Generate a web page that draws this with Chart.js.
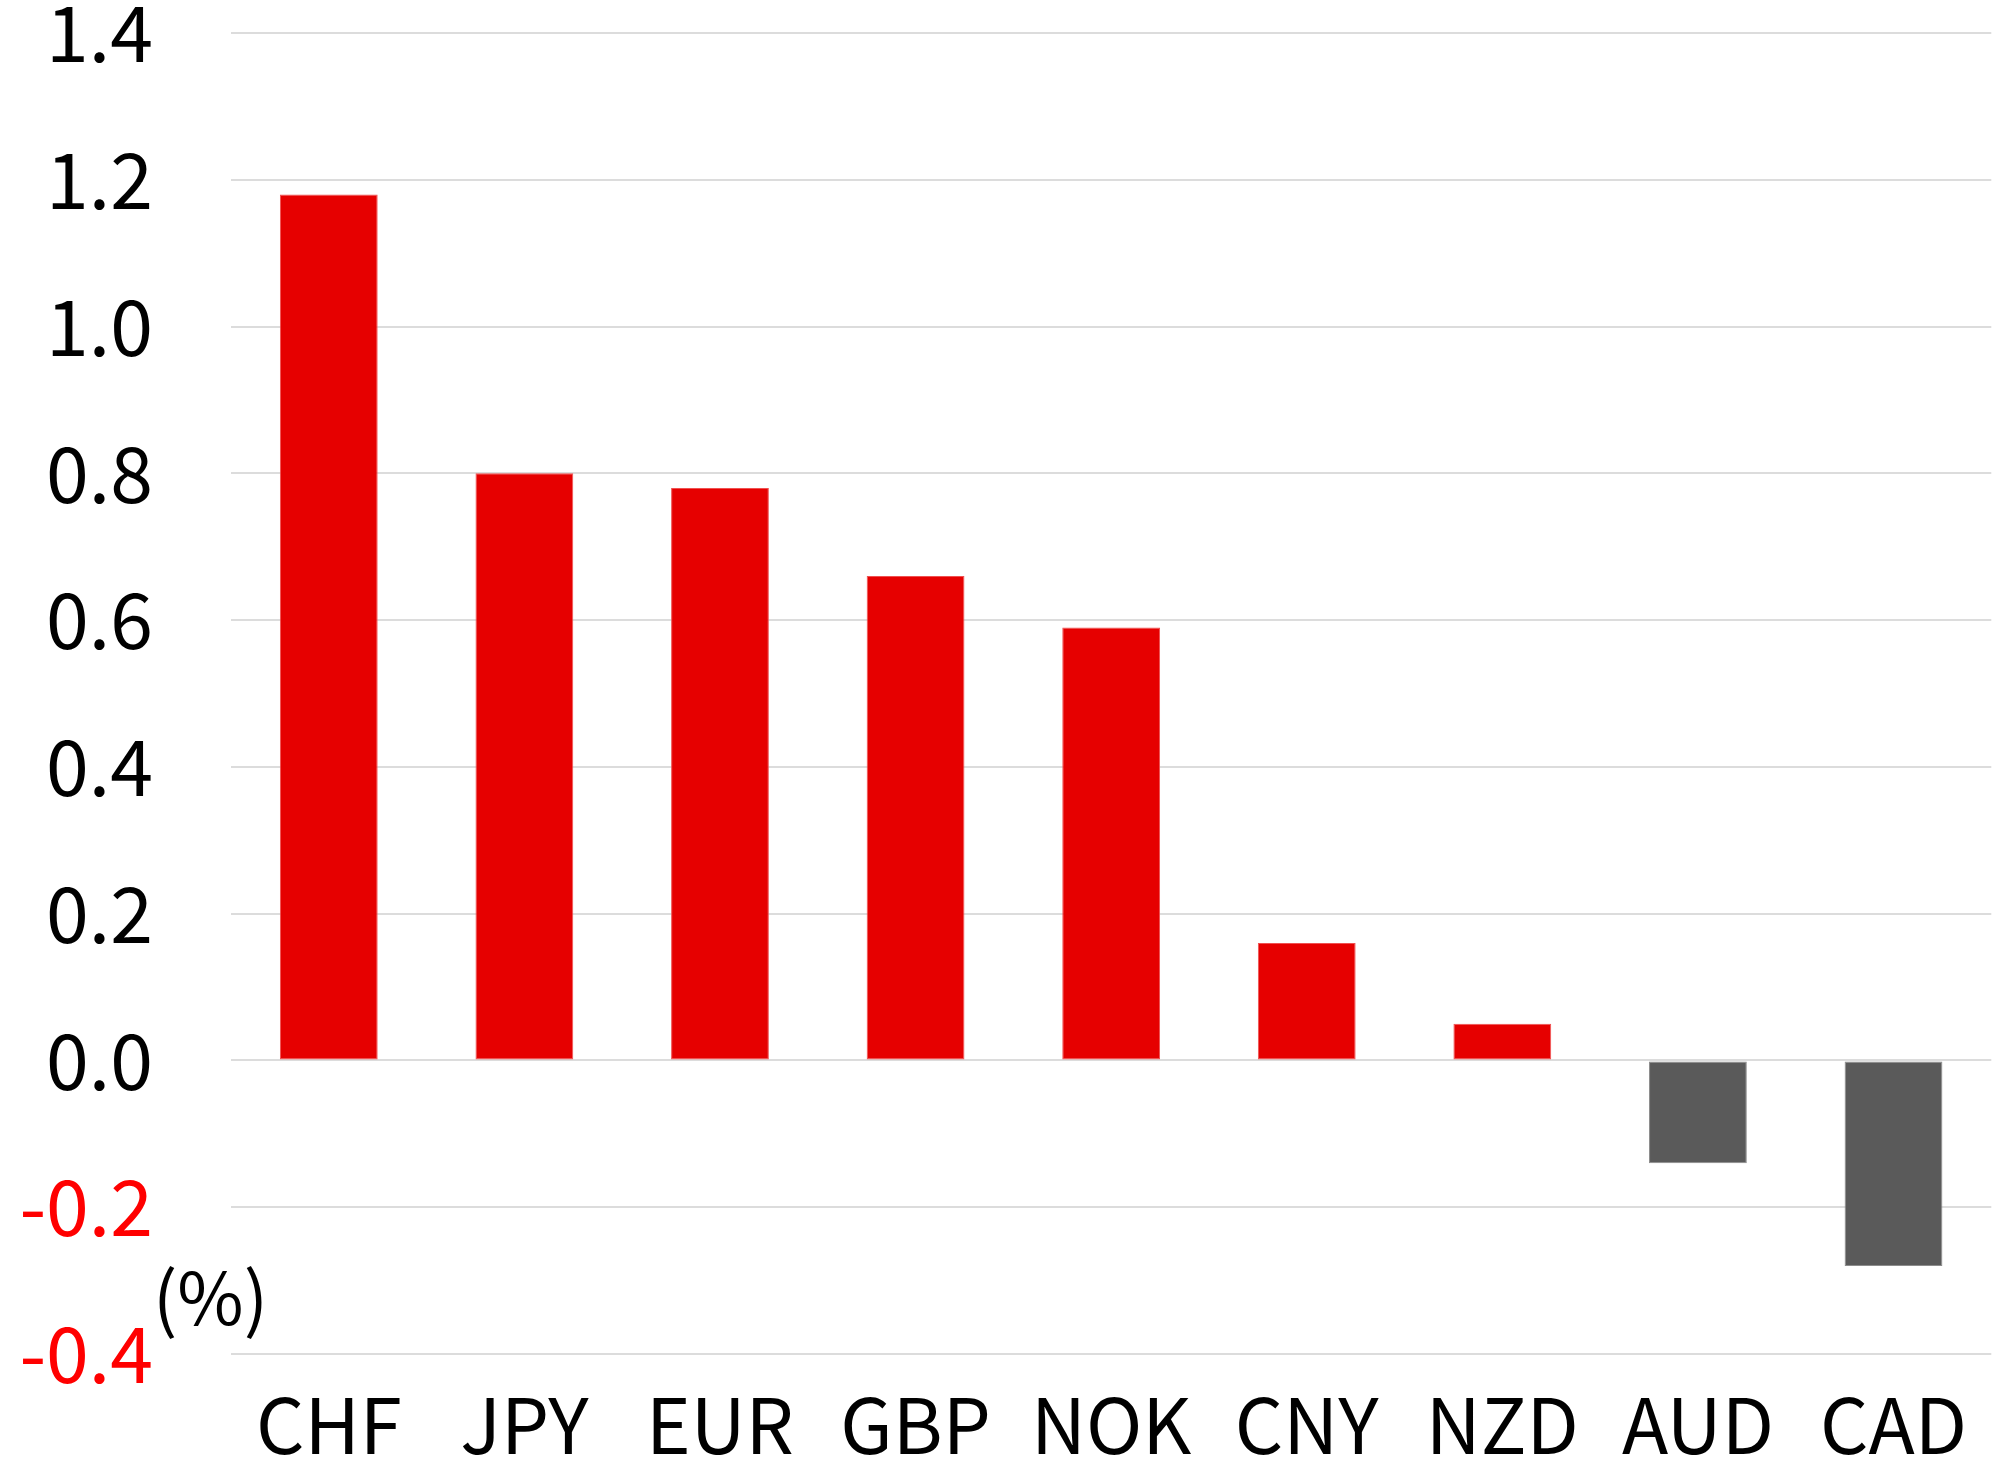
<!DOCTYPE html>
<html>
<head>
<meta charset="utf-8">
<script src="https://cdn.jsdelivr.net/npm/chart.js@4/dist/chart.umd.min.js"></script>
<style>
  html, body { margin: 0; padding: 0; background: #fff; }
</style>
</head>
<body>
<canvas id="fxChart" width="1993" height="1464"></canvas>
<script>
// 通貨と変化率（%）
const currencies = ['CHF', 'JPY', 'EUR', 'GBP', 'NOK', 'CNY', 'NZD', 'AUD', 'CAD'];
const changes = [1.18, 0.80, 0.78, 0.66, 0.59, 0.16, 0.05, -0.14, -0.28];
const yTicks = [-0.4, -0.2, 0.0, 0.2, 0.4, 0.6, 0.8, 1.0, 1.2, 1.4];
const unitLabel = '(%)';

const FONT = '"Noto Sans CJK JP", "Noto Sans", sans-serif';
const RED = '#e60000';
const GRAY = '#5a5a5a';

// 単位ラベル "(%)"
const unitPlugin = {
  id: 'unitLabel',
  afterDraw(chart) {
    const ctx = chart.ctx;
    const area = chart.chartArea;
    ctx.save();
    ctx.font = '72px ' + FONT;
    ctx.fillStyle = '#000';
    ctx.textAlign = 'left';
    ctx.textBaseline = 'middle';
    ctx.fillText(unitLabel, area.left - 78, area.bottom - 56);
    ctx.restore();
  }
};

const config = {
  type: 'bar',
  data: {
    labels: currencies,
    datasets: [{
      data: changes,
      backgroundColor: changes.map(v => v < 0 ? GRAY : RED),
      borderColor: changes.map(v => v < 0 ? '#8c8c8c' : '#f05050'),
      borderWidth: 1,
      borderSkipped: false,
      categoryPercentage: 1.0,
      barPercentage: 0.5
    }]
  },
  options: {
    responsive: false,
    animation: false,
    layout: { padding: { top: 33, right: 0, bottom: 0, left: 0 } },
    plugins: {
      legend: { display: false },
      tooltip: { enabled: false }
    },
    scales: {
      x: {
        grid: { display: false, drawTicks: false },
        border: { display: false },
        ticks: {
          color: '#000',
          padding: 26,
          maxRotation: 0,
          font: { family: FONT, size: 76 }
        },
        afterFit(scale) { scale.height = 110; }
      },
      y: {
        min: -0.4,
        max: 1.4,
        afterBuildTicks(scale) {
          scale.ticks = yTicks.map(v => ({ value: v }));
        },
        grid: { color: '#dcdcdc', lineWidth: 2, drawTicks: false },
        border: { display: false },
        ticks: {
          padding: 78,
          color: ctx => ctx.tick.value < 0 ? '#ff0000' : '#000',
          font: { family: FONT, size: 77 },
          callback: v => Number(v).toFixed(1)
        },
        afterFit(scale) {
          scale.width = 231;
          scale.paddingTop = 0;
          scale.paddingBottom = 0;
        }
      }
    }
  },
  plugins: [unitPlugin]
};

const ctx = document.getElementById('fxChart').getContext('2d');
const fxChart = new Chart(ctx, config);
</script>
</body>
</html>
